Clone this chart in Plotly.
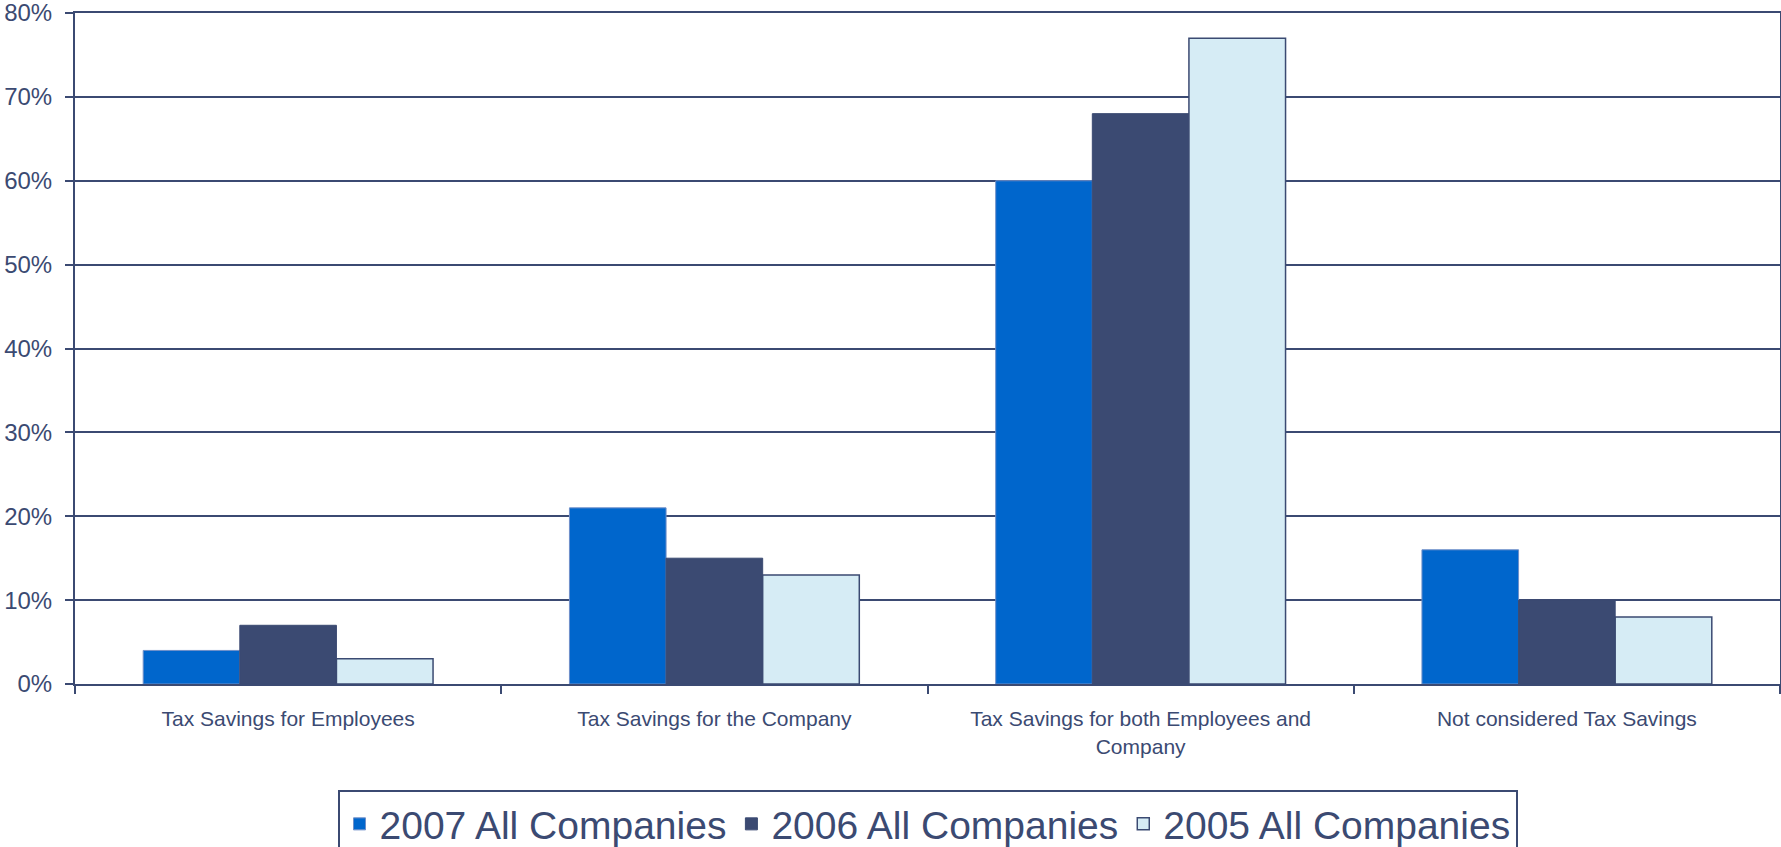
import plotly.graph_objects as go

categories = ["Tax Savings for Employees", "Tax Savings for the Company",
              "Tax Savings for both Employees and<br>Company", "Not considered Tax Savings"]
series_names = ["2007 All Companies", "2006 All Companies", "2005 All Companies"]
values_2007 = [4, 21, 60, 16]
values_2006 = [7, 15, 68, 10]
values_2005 = [3, 13, 77, 8]
y_ticks = [0, 10, 20, 30, 40, 50, 60, 70, 80]

navy = "#3B4A72"
fills = ["#0066CC", "#3B4A72", "#D6ECF5"]
edges = ["#6F8FC8", "#3B4A72", "#3B4A72"]
edge_w = [1, 1, 1.5]

fig = go.Figure()
for name, vals, c, e, w in zip(series_names, [values_2007, values_2006, values_2005], fills, edges, edge_w):
    fig.add_trace(go.Bar(x=categories, y=vals, name=name,
                         marker=dict(color=c, line=dict(color=e, width=w))))

fig.update_layout(
    width=1781, height=847,
    margin=dict(l=75, r=1, t=13, b=163, autoexpand=False),
    plot_bgcolor="white", paper_bgcolor="white",
    barmode="group", bargap=0.32, bargroupgap=0,
    font=dict(family="Liberation Sans, Arial, sans-serif", color=navy),
    legend=dict(orientation="h", x=0.5, xanchor="center", y=-0.158, yanchor="top",
                bordercolor=navy, borderwidth=2, font=dict(size=39, color=navy),
                itemwidth=30, tracegroupgap=0),
)
fig.update_yaxes(range=[0, 80], tickmode="array", tickvals=y_ticks,
                 ticktext=[f"{v}%" for v in y_ticks], showgrid=True,
                 gridcolor=navy, gridwidth=2, showline=True, linecolor=navy,
                 linewidth=2, mirror=True, ticks="outside", ticklen=8,
                 tickcolor=navy, tickwidth=2, tickfont=dict(size=24, color=navy),
                 zeroline=False, automargin=False, ticklabelstandoff=8,
                 ticklabeloverflow="allow")
fig.update_xaxes(showline=True, linecolor=navy, linewidth=2, mirror=True,
                 ticks="outside", tickson="boundaries", ticklen=8, tickcolor=navy,
                 tickwidth=2, tickfont=dict(size=21, color=navy),
                 ticklabelstandoff=15, automargin=False)

# drop the default 8px body margin so the figure sits at the page corner
fig.write_html("out.html", config={"displayModeBar": False},
               post_script="document.body.style.margin='0';")
